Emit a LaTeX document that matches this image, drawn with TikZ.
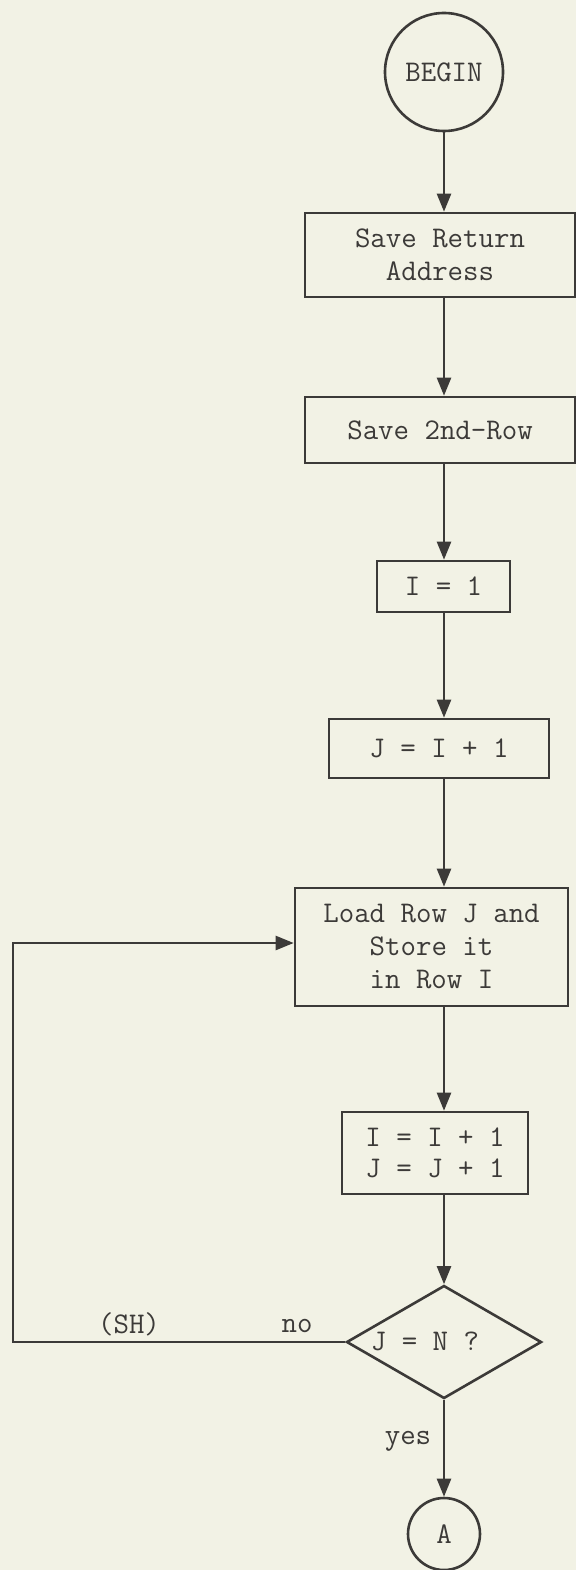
\documentclass[tikz,border=0pt]{standalone}
\usetikzlibrary{arrows.meta,shapes.geometric}
\definecolor{paper}{HTML}{F2F2E5}
\definecolor{ink}{HTML}{3C3A38}
\tikzset{
  box/.style={draw=ink, line width=2.6pt, rectangle, inner sep=0pt, align=center},
  term/.style={draw=ink, line width=2.6pt, circle, inner sep=0pt},
  dec/.style={draw=ink, line width=2.6pt, diamond, inner sep=0pt},
  arr/.style={draw=ink, line width=2.4pt, -{Triangle[length=18pt,width=14pt]}},
  lbl/.style={text=ink, inner sep=0pt}
}
\begin{document}
\begin{tikzpicture}[x=1pt,y=-1pt,font=\fontsize{30}{33}\selectfont\ttfamily,text=ink]
\fill[paper] (0,0) rectangle (576,1570);
\useasboundingbox (0,0) rectangle (576,1570);

\node[term, minimum size=118pt] (begin) at (444,72) {BEGIN};
\node[box, minimum width=270pt, minimum height=84pt] (b1) at (440,255) {Save Return\\Address};
\node[box, minimum width=270pt, minimum height=66pt] (b2) at (440,430) {Save 2nd-Row};
\node[box, minimum width=133pt, minimum height=51pt] (b3) at (443.5,586.5) {I = 1};
\node[box, minimum width=220pt, minimum height=59pt] (b4) at (439,748.5) {J = I + 1};
\node[box, minimum width=273pt, minimum height=118pt] (b5) at (431.5,947) {Load Row J and\\Store it\\in Row I};
\node[box, minimum width=186pt, minimum height=82pt, font=\fontsize{30}{31}\selectfont\ttfamily] (b6) at (435,1153) {I = I + 1\\J = J + 1};
\node[dec, minimum width=195pt, minimum height=113pt, aspect=1.73] (d) at (444,1342) {};
\node[lbl] (dtext) at (425,1341) {J = N ?};
\node[term, minimum size=72pt] (a) at (444,1534) {A};

\draw[arr] (begin.south) -- (begin.south |- b1.north);
\draw[arr] (begin.south |- b1.south) -- (begin.south |- b2.north);
\draw[arr] (begin.south |- b2.south) -- (begin.south |- b3.north);
\draw[arr] (begin.south |- b3.south) -- (begin.south |- b4.north);
\draw[arr] (begin.south |- b4.south) -- (begin.south |- b5.north);
\draw[arr] (begin.south |- b5.south) -- (begin.south |- b6.north);
\draw[arr] (begin.south |- b6.south) -- (d.north);
\draw[arr] (d.south) -- (a.north);

\coordinate (l1) at (13,1342);
\coordinate (l2) at (13,943);
\draw[arr] (d.west) -- (l1) -- (l2) -- (l2 -| b5.west);

\node[lbl] (no) at (297,1326) {no};
\node[lbl] (sh) at (129,1324) {(SH)};
\node[lbl] (yes) at (408,1441) {yes};
\end{tikzpicture}
\end{document}
